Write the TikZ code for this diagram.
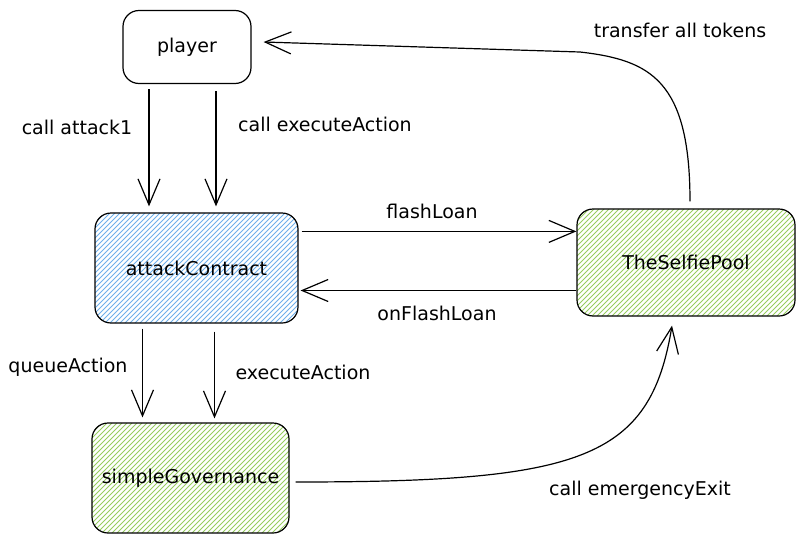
\documentclass[tikz,border=0pt]{standalone}
\usepackage{fontspec}
\setmainfont{DejaVu Sans}
\usetikzlibrary{arrows.meta}
\definecolor{hatchblue}{RGB}{110,175,235}
\definecolor{hatchgreen}{RGB}{150,205,95}

\begin{document}
\begin{tikzpicture}[x=1pt, y=-1pt,
    box/.style={rectangle, draw, rounded corners=16pt, line width=1.2pt, font=\fontsize{19}{22}\selectfont},
    hatch/.style={path picture={
        \foreach \k in {-130,-125,...,230}
            \draw[#1, line width=0.8pt] ([xshift=\k pt]path picture bounding box.south west) -- ++(130,-130);
    }},
    flow/.style={draw, line width=1.2pt, -{Straight Barb[length=26pt, width=22pt]}},
    lbl/.style={font=\fontsize{19}{22}\selectfont}]
    \useasboundingbox (0,0) rectangle (812,544);

    \node[box, minimum width=128pt, minimum height=73pt] (player) at (187,47) {player};
    \node[box, hatch=hatchblue, minimum width=203pt, minimum height=110pt] (attack) at (196.5,268) {attackContract};
    \node[box, hatch=hatchgreen, minimum width=218pt, minimum height=107pt] (pool) at (686,262.5) {TheSelfiePool};
    \node[box, hatch=hatchgreen, minimum width=197pt, minimum height=110pt] (gov) at (190.5,478) {simpleGovernance};

    \draw[flow, shorten <=5pt, shorten >=6pt] ([xshift=-38pt]player.south) -- ([xshift=-38pt]player.south |- attack.north);
    \draw[flow, shorten <=7pt, shorten >=6pt] ([xshift=29pt]player.south) -- ([xshift=29pt]player.south |- attack.north);
    \draw[flow, shorten <=3pt] ([yshift=-19pt]attack.north east) -- ([yshift=-19pt]attack.north east -| pool.west);
    \draw[flow, shorten >=2pt] ([yshift=-28pt]pool.west) -- ([yshift=-28pt]pool.west -| attack.east);
    \draw[flow, shorten <=5pt, shorten >=5pt] ([xshift=-54pt]attack.south) -- ([xshift=-54pt]attack.south |- gov.north);
    \draw[flow, shorten <=8pt, shorten >=4pt] ([xshift=18pt]attack.south) -- ([xshift=18pt]attack.south |- gov.north);
    \draw[flow] ([xshift=6pt, yshift=-4pt]gov.east) .. controls (580,482) and (650,460) .. ([xshift=-14pt, yshift=-9pt]pool.south);
    \draw[flow] ([xshift=4pt, yshift=7pt]pool.north) .. controls (690,80) and (650,60) .. (580,52) -- ([xshift=12pt, yshift=5pt]player.east);

    \node[lbl] (l-attack) at (77,127) {call attack1};
    \node[lbl] (l-exec1) at (325,124) {call executeAction};
    \node[lbl] (l-flash) at (432,211) {flashLoan};
    \node[lbl] (l-onflash) at (437,313) {onFlashLoan};
    \node[lbl] (l-queue) at (68,367) {queueAction};
    \node[lbl] (l-exec2) at (303,372) {executeAction};
    \node[lbl] (l-exit) at (640,490) {call emergencyExit};
    \node[lbl] (l-transfer) at (680,30) {transfer all tokens};
\end{tikzpicture}
\end{document}
